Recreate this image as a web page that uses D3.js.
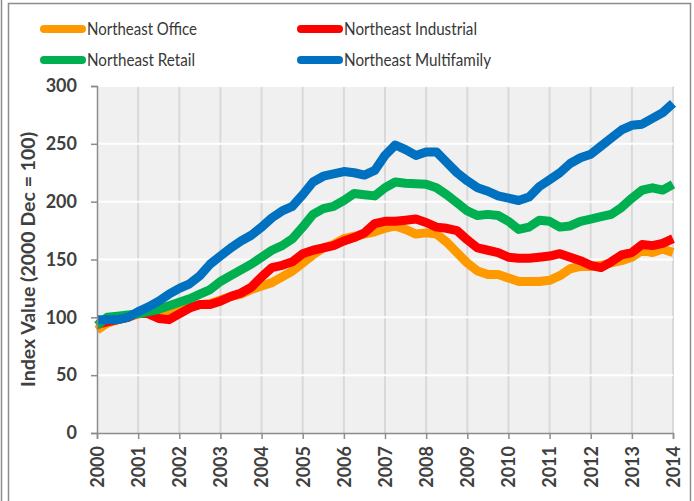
<!DOCTYPE html>
<html>
<head>
<meta charset="utf-8">
<script src="https://cdn.jsdelivr.net/npm/d3@7"></script>
<style>
  body { margin: 0; background: #fff; }
  svg { display: block; font-family: Lato, "Open Sans", sans-serif; }
</style>
</head>
<body>
<div id="chart"></div>
<script>
// quarterly index values, 2000 Q1 .. 2014 Q1
const years = d3.range(2000, 2015);
const yTicks = [0, 50, 100, 150, 200, 250, 300];

const office = [89, 95, 98, 100, 103, 104, 105, 104, 106, 109, 111, 112, 115, 118, 120, 124,
  127, 130, 135, 140, 147, 154, 160, 163, 168, 170, 172, 174, 177, 179, 176, 172,
  173, 172, 165, 156, 147, 140, 137, 137, 134, 131, 131, 131, 132, 136, 142, 144,
  144, 145, 147, 149, 152, 158, 156, 159, 156];
const industrial = [94, 96, 98, 100, 104, 103, 99, 98, 103, 108, 111, 111, 114, 118, 121, 126,
  135, 143, 145, 148, 155, 158, 160, 162, 166, 169, 173, 181, 183, 183, 184, 185,
  182, 178, 177, 175, 167, 160, 158, 156, 152, 151, 151, 152, 153, 155, 152, 149,
  145, 143, 148, 154, 156, 163, 162, 164, 168];
const retail = [93, 100, 101, 102, 103, 105, 107, 110, 113, 116, 120, 124, 131, 136, 141, 146,
  152, 158, 162, 168, 178, 189, 194, 196, 201, 207, 206, 205, 212, 217, 216, 215.5,
  215, 212, 206, 199, 192, 188, 189, 188, 183, 176, 178, 184, 183, 178, 179, 183,
  185, 187, 189, 195, 203, 210, 212, 210, 215];
const multifamily = [98, 98, 98, 100, 105, 109, 114, 120, 125, 129, 136, 146, 153, 160, 166, 171,
  178, 186, 192, 196, 206, 217, 222, 224, 226, 225, 223, 227, 240, 249, 245, 240,
  243, 243, 234, 225, 218, 212, 209, 205, 203, 201, 204, 213, 219, 225, 233, 238,
  241, 248, 255, 262, 266, 267, 272, 277, 285];

const series = [
  { name: 'Northeast Office', color: '#FF9900', values: office, textW: 110 },
  { name: 'Northeast Industrial', color: '#FF0000', values: industrial, textW: 133 },
  { name: 'Northeast Retail', color: '#00B050', values: retail, textW: 108 },
  { name: 'Northeast Multifamily', color: '#0070C0', values: multifamily, textW: 147 }
];

const width = 694, height = 501;
const margin = { top: 86, right: 21, bottom: 68, left: 97 };
const innerW = width - margin.left - margin.right;
const innerH = height - margin.top - margin.bottom;

const svg = d3.select('#chart').append('svg')
  .attr('width', width)
  .attr('height', height);

// outer frame
svg.append('rect')
  .attr('x', 8.5).attr('y', 3.5)
  .attr('width', 682).attr('height', 510)
  .attr('fill', 'none')
  .attr('stroke', '#8c8c8c')
  .attr('stroke-width', 1.5);
svg.append('line')
  .attr('x1', 1.5).attr('x2', 1.5).attr('y1', 0).attr('y2', height)
  .attr('stroke', '#8c8c8c').attr('stroke-width', 1.5);

const x = d3.scaleLinear().domain([2000, 2014]).range([0, innerW]);
const y = d3.scaleLinear().domain([0, 300]).range([innerH, 0]);

const g = svg.append('g')
  .attr('transform', 'translate(' + margin.left + ',' + margin.top + ')');

g.append('rect')
  .attr('width', innerW)
  .attr('height', innerH)
  .attr('fill', '#f0f0f0');

// vertical grid
g.selectAll('.vgrid')
  .data(years.slice(1))
  .enter().append('line')
  .attr('class', 'vgrid')
  .attr('x1', d => x(d)).attr('x2', d => x(d))
  .attr('y1', 0).attr('y2', innerH)
  .attr('stroke', '#d9d9d9')
  .attr('stroke-width', 2);

// horizontal grid
g.selectAll('.hgrid')
  .data(yTicks.slice(1))
  .enter().append('line')
  .attr('class', 'hgrid')
  .attr('x1', 0).attr('x2', innerW)
  .attr('y1', d => y(d)).attr('y2', d => y(d))
  .attr('stroke', '#ffffff')
  .attr('stroke-width', 2);

// lines
const line = d3.line()
  .x((d, i) => x(2000 + i / 4))
  .y(d => y(d));

g.selectAll('.series')
  .data(series)
  .enter().append('path')
  .attr('class', 'series')
  .attr('d', d => line(d.values))
  .attr('fill', 'none')
  .attr('stroke', d => d.color)
  .attr('stroke-width', 9)
  .attr('stroke-linejoin', 'round');

// axes
const yAxis = g.append('g')
  .call(d3.axisLeft(y).tickValues(yTicks).tickSize(6).tickPadding(14));
const xAxis = g.append('g')
  .attr('transform', 'translate(0,' + innerH + ')')
  .call(d3.axisBottom(x).tickValues(years).tickFormat(d3.format('d')).tickSize(6));

[yAxis, xAxis].forEach(a => {
  a.select('.domain').attr('stroke', '#8c8c8c').attr('stroke-width', 1.5);
  a.selectAll('.tick line').attr('stroke', '#8c8c8c').attr('stroke-width', 1.5);
  a.selectAll('text')
    .attr('fill', '#404040')
    .style('font-size', '18px')
    .style('font-weight', 'bold')
    .style('font-family', 'Lato, sans-serif');
});

xAxis.selectAll('text')
  .attr('transform', 'rotate(-90)')
  .attr('x', -13)
  .attr('y', 0)
  .attr('dy', '0.35em')
  .attr('text-anchor', 'end');

// y axis title
svg.append('text')
  .attr('transform', 'translate(35,' + (margin.top + innerH / 2) + ') rotate(-90)')
  .attr('text-anchor', 'middle')
  .attr('fill', '#404040')
  .style('font-size', '19px')
  .style('font-weight', 'bold')
  .attr('textLength', 255)
  .attr('lengthAdjust', 'spacingAndGlyphs')
  .text('Index Value (2000 Dec = 100)');

// legend
const legendPos = [[41, 29], [298, 29], [41, 60], [298, 60]];
const legend = svg.selectAll('.legend')
  .data(series)
  .enter().append('g')
  .attr('class', 'legend')
  .attr('transform', (d, i) => 'translate(' + legendPos[i][0] + ',' + legendPos[i][1] + ')');

legend.append('line')
  .attr('x1', 3).attr('x2', 41)
  .attr('y1', 0).attr('y2', 0)
  .attr('stroke', d => d.color)
  .attr('stroke-width', 8)
  .attr('stroke-linecap', 'round');

legend.append('text')
  .attr('x', 46)
  .attr('y', 6)
  .attr('fill', '#383838')
  .style('font-size', '18px')
  .attr('textLength', d => d.textW)
  .attr('lengthAdjust', 'spacingAndGlyphs')
  .text(d => d.name);
</script>
</body>
</html>
